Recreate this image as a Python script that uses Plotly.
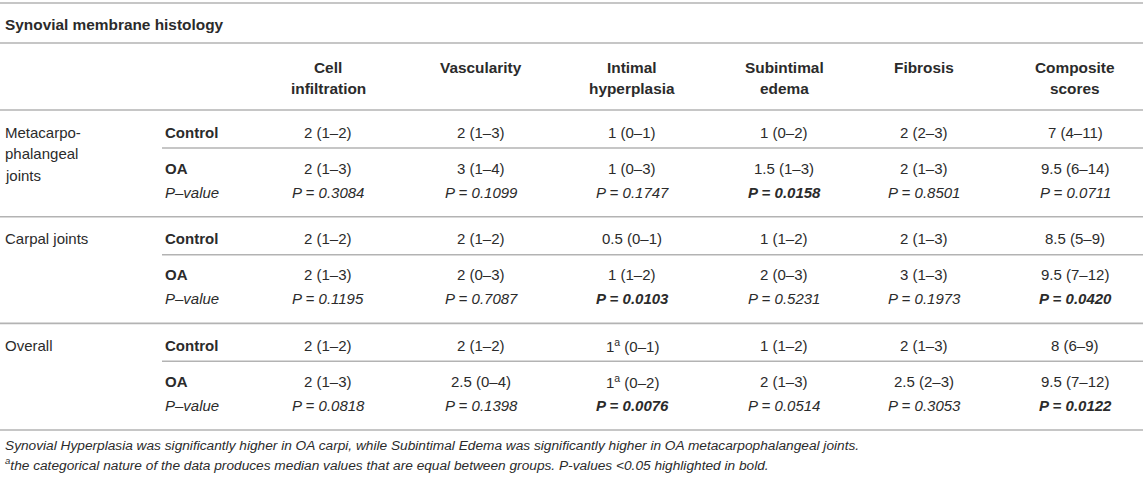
import plotly.graph_objects as go

# ---- table content ----
title = "Synovial membrane histology"
columns = [
    ["Cell", "infiltration"],
    ["Vascularity"],
    ["Intimal", "hyperplasia"],
    ["Subintimal", "edema"],
    ["Fibrosis"],
    ["Composite", "scores"],
]
groups = [
    ["Metacarpo-", "phalangeal", "joints"],
    ["Carpal joints"],
    ["Overall"],
]
row_labels = ["Control", "OA", "P\u2013value"]

control_vals = [
    ["2 (1\u20132)", "2 (1\u20133)", "1 (0\u20131)", "1 (0\u20132)", "2 (2\u20133)", "7 (4\u201311)"],
    ["2 (1\u20132)", "2 (1\u20132)", "0.5 (0\u20131)", "1 (1\u20132)", "2 (1\u20133)", "8.5 (5\u20139)"],
    ["2 (1\u20132)", "2 (1\u20132)", "1<sup>a</sup> (0\u20131)", "1 (1\u20132)", "2 (1\u20133)", "8 (6\u20139)"],
]
oa_vals = [
    ["2 (1\u20133)", "3 (1\u20134)", "1 (0\u20133)", "1.5 (1\u20133)", "2 (1\u20133)", "9.5 (6\u201314)"],
    ["2 (1\u20133)", "2 (0\u20133)", "1 (1\u20132)", "2 (0\u20133)", "3 (1\u20133)", "9.5 (7\u201312)"],
    ["2 (1\u20133)", "2.5 (0\u20134)", "1<sup>a</sup> (0\u20132)", "2 (1\u20133)", "2.5 (2\u20133)", "9.5 (7\u201312)"],
]
p_vals = [
    ["0.3084", "0.1099", "0.1747", "0.0158", "0.8501", "0.0711"],
    ["0.1195", "0.7087", "0.0103", "0.5231", "0.1973", "0.0420"],
    ["0.0818", "0.1398", "0.0076", "0.0514", "0.3053", "0.0122"],
]
footnotes = [
    "Synovial Hyperplasia was significantly higher in OA carpi, while Subintimal Edema was "
    "significantly higher in OA metacarpophalangeal joints.",
    "<sup>a</sup>the categorical nature of the data produces median values that are equal between "
    "groups. P-values <0.05 highlighted in bold.",
]

# ---- layout geometry (pixels) ----
W, H = 1143, 477
col_x = [328, 481, 632, 784, 924, 1075]
label_x = 3
sub_x = 163
group_top = [110, 216.7, 323.3]
group_h = 106.7
line_gap = 21.5
font_family = "Liberation Sans, Arial, sans-serif"
txt = "#2b2b2b"
rule = "#b3b3b3"

fig = go.Figure()
annotations = []
shapes = []


def add_text(x, y, text, anchor="center", size=15):
    annotations.append(dict(
        x=x, y=y, xref="x", yref="y", text=text, showarrow=False,
        xanchor=anchor, yanchor="middle",
        font=dict(family=font_family, size=size, color=txt),
    ))


def add_rule(x0, x1, y):
    shapes.append(dict(type="line", xref="x", yref="y", x0=x0, x1=x1, y0=y, y1=y,
                       line=dict(color=rule, width=1.6)))


# horizontal rules
add_rule(0, W, 3)
add_rule(0, W, 43)
add_rule(0, W, 110)
for g in group_top:
    add_rule(sub_x - 1, W, g + 38)
    add_rule(0, W, g + group_h)

# title
add_text(label_x, 24, "<b>" + title + "</b>", anchor="left", size=15.4)

# column headers
for cx, lines in zip(col_x, columns):
    for i, ln in enumerate(lines):
        add_text(cx, 67 + i * line_gap, "<b>" + ln + "</b>", size=15.4)

# body
for gi, g in enumerate(group_top):
    for i, ln in enumerate(groups[gi]):
        add_text(label_x, g + 22 + i * line_gap, ln, anchor="left")
    add_text(sub_x, g + 22, "<b>" + row_labels[0] + "</b>", anchor="left")
    add_text(sub_x, g + 58, "<b>" + row_labels[1] + "</b>", anchor="left")
    add_text(sub_x, g + 82, "<i>" + row_labels[2] + "</i>", anchor="left")
    for ci, cx in enumerate(col_x):
        add_text(cx, g + 22, control_vals[gi][ci])
        add_text(cx, g + 58, oa_vals[gi][ci])
        p = p_vals[gi][ci]
        ptxt = "P = " + p
        if float(p) < 0.05:
            ptxt = "<b>" + ptxt + "</b>"
        add_text(cx, g + 82, "<i>" + ptxt + "</i>")

# footnotes
add_text(label_x, 445, "<i>" + footnotes[0] + "</i>", anchor="left", size=13.7)
add_text(label_x, 464, "<i>" + footnotes[1] + "</i>", anchor="left", size=13.7)

fig.update_layout(
    width=W, height=H,
    margin=dict(l=0, r=0, t=0, b=0),
    paper_bgcolor="white", plot_bgcolor="white",
    xaxis=dict(range=[0, W], visible=False, fixedrange=True),
    yaxis=dict(range=[H, 0], visible=False, fixedrange=True),
    annotations=annotations,
    shapes=shapes,
    showlegend=False,
)

# no modebar, and drop the browser's default body margin so the table sits at the page corner
fig.write_html("out.html", config={"displayModeBar": False},
               post_script="document.body.style.margin='0';")
